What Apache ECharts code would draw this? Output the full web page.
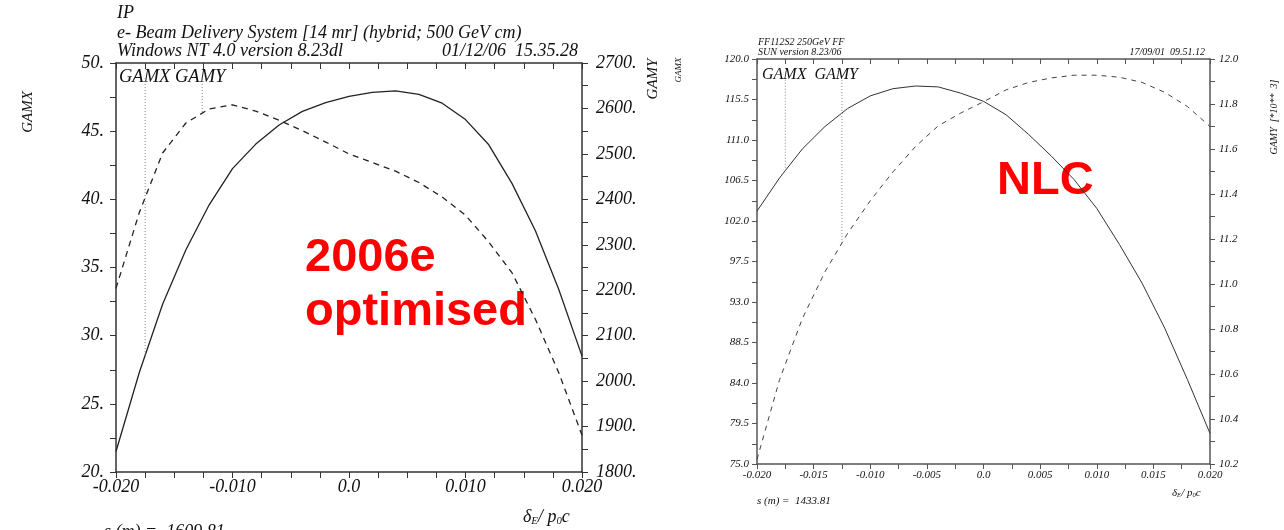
<!DOCTYPE html>
<html>
<head>
<meta charset="utf-8">
<script src="https://cdn.jsdelivr.net/npm/echarts@6/dist/echarts.min.js"></script>
<style>
  html, body { margin: 0; padding: 0; background: #fff; }
  #chart { width: 1284px; height: 530px; }
</style>
</head>
<body>
<div id="chart"></div>
<script>
// energy offset, same grid for both panels
const delta = [-0.020, -0.018, -0.016, -0.014, -0.012, -0.010, -0.008, -0.006, -0.004, -0.002,
  0.000, 0.002, 0.004, 0.006, 0.008, 0.010, 0.012, 0.014, 0.016, 0.018, 0.020];

// left panel: 2006e optimised
const ipGamx = [21.5, 27.3, 32.3, 36.3, 39.6, 42.25, 44.05, 45.45, 46.45, 47.1,
  47.55, 47.85, 47.95, 47.7, 47.05, 45.85, 44.0, 41.15, 37.7, 33.4, 28.5];
const ipGamy = [2204, 2371, 2502, 2568, 2599, 2608, 2594, 2574, 2551, 2526,
  2500, 2481, 2462, 2437, 2405, 2365, 2306, 2238, 2136, 2019, 1881];

// right panel: NLC
const nlcGamx = [103.1, 106.8, 110.0, 112.5, 114.5, 115.9, 116.7, 117.0, 116.9, 116.2,
  115.3, 113.8, 111.6, 109.2, 106.6, 103.4, 99.4, 95.1, 90.1, 84.4, 78.4];
const nlcGamy = [10.22, 10.576, 10.846, 11.054, 11.225, 11.370, 11.498, 11.611, 11.703, 11.760,
  11.810, 11.863, 11.896, 11.916, 11.928, 11.928, 11.919, 11.896, 11.852, 11.789, 11.70];

// dotted label markers [delta, top, curve]
const ipMarkGamx = [-0.0175, 48.9, 28.55];
const ipMarkGamy = [-0.0126, 2667, 2590];
const nlcMarkGamx = [-0.0175, 117.7, 107.6];
const nlcMarkGamy = [-0.0125, 11.907, 11.182];

const SERIF = 'Liberation Serif';
const SANS = 'Liberation Sans';

const pts = (ys) => delta.map((d, i) => [d, ys[i]]);
const mark = (m) => [[m[0], m[1]], [m[0], m[2]]];
const xFmt = v => Math.abs(v) < 1e-9 ? '0.0' : v.toFixed(3);

function xAxes(grid, interval, split, fontSize, color, tickLen) {
  const common = {
    type: 'value', gridIndex: grid, min: -0.02, max: 0.02, interval: interval,
    splitLine: {show: false},
    axisLine: {show: true, onZero: false, lineStyle: {color: color, width: 1.5}},
    minorTick: {show: true, splitNumber: split, length: tickLen, lineStyle: {color: color}},
    axisTick: {length: tickLen, lineStyle: {color: color}}
  };
  return [
    Object.assign({}, common, {
      position: 'bottom',
      axisLabel: {formatter: xFmt, fontFamily: SERIF, fontStyle: 'italic', fontSize: fontSize, color: '#111', margin: 6}
    }),
    Object.assign({}, common, {
      position: 'top',
      axisLabel: {show: false},
      axisTick: {inside: true, length: tickLen, lineStyle: {color: color}},
      minorTick: {show: true, splitNumber: split, length: tickLen, lineStyle: {color: color}}
    })
  ];
}

function yAxis(grid, pos, min, max, interval, fmt, fontSize, color, tickLen, margin) {
  return {
    type: 'value', gridIndex: grid, position: pos, min: min, max: max, interval: interval,
    splitLine: {show: false},
    axisLine: {show: true, onZero: false, lineStyle: {color: color, width: 1.5}},
    axisTick: {length: tickLen, lineStyle: {color: color}},
    minorTick: {show: true, splitNumber: 2, length: tickLen, lineStyle: {color: color}},
    axisLabel: {formatter: fmt, fontFamily: SERIF, fontStyle: 'italic', fontSize: fontSize, color: '#111', margin: margin}
  };
}

function line(xi, yi, data, color, width, type) {
  return {
    type: 'line', xAxisIndex: xi, yAxisIndex: yi, data: data, symbol: 'none',
    lineStyle: {color: color, width: width, type: type}, silent: true
  };
}

function txt(x, y, text, size, opts) {
  const o = opts || {};
  return {
    type: 'text', x: x, y: y, rotation: o.rot || 0, silent: true,
    style: {
      text: text, fill: o.color || '#111',
      font: (o.style || 'italic') + ' ' + (o.weight || 'normal') + ' ' + size + 'px "' + (o.family || SERIF) + '"',
      textAlign: o.align || 'left', textVerticalAlign: o.valign || 'middle',
      rich: o.rich
    }
  };
}

const deltaRich = (size) => ({
  a: {fontFamily: SERIF, fontStyle: 'italic', fontSize: size, color: '#111'},
  s: {fontFamily: SERIF, fontStyle: 'italic', fontSize: size * 0.6, color: '#111', verticalAlign: 'bottom', padding: [size * 0.5, 0, 0, 0]}
});

const myChart = echarts.init(document.getElementById('chart'));
myChart.setOption({
  animation: false,
  backgroundColor: '#ffffff',
  grid: [
    {left: 116, top: 63, width: 466, height: 409},
    {left: 757, top: 59, width: 453, height: 405}
  ],
  xAxis: [].concat(
    xAxes(0, 0.01, 4, 18, '#333', 6),
    xAxes(1, 0.005, 2, 11, '#555', 5)
  ),
  yAxis: [
    yAxis(0, 'left', 20, 50, 5, v => Math.round(v) + '.', 18, '#333', 6, 12),
    yAxis(0, 'right', 1800, 2700, 100, v => Math.round(v) + '.', 18, '#333', 6, 14),
    yAxis(1, 'left', 75, 120, 4.5, v => v.toFixed(1), 11, '#555', 5, 8),
    yAxis(1, 'right', 10.2, 12.0, 0.2, v => v.toFixed(1), 11, '#555', 5, 9)
  ],
  series: [
    line(0, 0, pts(ipGamx), '#222', 1.3, 'solid'),
    line(0, 1, pts(ipGamy), '#222', 1.3, [6, 5]),
    line(0, 0, mark(ipMarkGamx), '#888', 1, [1, 2]),
    line(0, 1, mark(ipMarkGamy), '#888', 1, [1, 2]),
    line(2, 2, pts(nlcGamx), '#333', 1, 'solid'),
    line(2, 3, pts(nlcGamy), '#444', 1, [5, 5]),
    line(2, 2, mark(nlcMarkGamx), '#888', 1, [1, 2]),
    line(2, 3, mark(nlcMarkGamy), '#888', 1, [1, 2])
  ],
  graphic: [
    // left panel header
    txt(117, 13, 'IP', 18),
    txt(117, 33, 'e- Beam Delivery System [14 mr] (hybrid; 500 GeV cm)', 18),
    txt(117, 51, 'Windows NT 4.0 version 8.23dl', 18),
    txt(578, 51, '01/12/06  15.35.28', 18, {align: 'right'}),
    txt(119, 77, 'GAMX GAMY', 18.5),
    txt(28, 112, 'GAMX', 15, {rot: Math.PI / 2, align: 'center'}),
    txt(653, 79, 'GAMY', 15, {rot: Math.PI / 2, align: 'center'}),
    txt(523, 517, '{a|δ}{s|E}{a|/ p}{s|0}{a|c}', 18, {rich: deltaRich(18)}),
    txt(104, 523, 's (m) =  1609.81', 18, {valign: 'top'}),
    txt(305, 258, '2006e', 47, {style: 'normal', weight: 'bold', family: SANS, color: '#ff0000'}),
    txt(305, 312, 'optimised', 47, {style: 'normal', weight: 'bold', family: SANS, color: '#ff0000'}),
    // right panel header
    txt(758, 42, 'FF112S2 250GeV FF', 10),
    txt(758, 52, 'SUN version 8.23/06', 10),
    txt(1205, 52, '17/09/01  09.51.12', 10, {align: 'right'}),
    txt(762, 75, 'GAMX  GAMY', 16),
    txt(679, 70, 'GAMX', 9, {rot: Math.PI / 2, align: 'center'}),
    txt(1274, 117, 'GAMY  [*10**  3]', 10, {rot: Math.PI / 2, align: 'center'}),
    txt(1172, 493, '{a|δ}{s|E}{a|/ p}{s|0}{a|c}', 11, {rich: deltaRich(11)}),
    txt(757, 501, 's (m) =  1433.81', 11),
    txt(997, 181, 'NLC', 47, {style: 'normal', weight: 'bold', family: SANS, color: '#ff0000'})
  ]
});
window.addEventListener('resize', () => myChart.resize());
</script>
</body>
</html>
